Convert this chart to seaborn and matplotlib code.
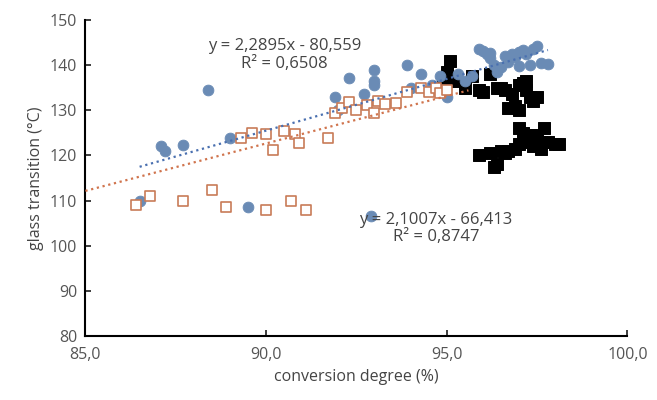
import numpy as np
import matplotlib
matplotlib.use("Agg")
import matplotlib.pyplot as plt
import seaborn as sns

blue_x = [86.5, 87.1, 87.2, 87.7, 88.4, 89.0, 89.5, 91.9, 92.0, 92.3, 92.7, 93.0, 93.0, 92.9, 93.0,
          93.9, 94.0, 94.3, 94.6, 94.8, 95.0, 95.3, 95.5, 95.9, 96.0, 96.1, 96.2, 96.3, 96.4, 96.5,
          96.6, 96.8, 96.9, 97.0, 97.1, 97.2, 97.3, 97.4, 97.5, 97.6, 97.8, 96.7, 97.0, 95.7, 96.2]
blue_y = [110, 122, 121, 122.3, 134.6, 123.8, 108.5, 133, 130, 137.2, 133.5, 136.5, 139, 106.5, 135.5,
          140, 135, 138, 135.5, 137.5, 133, 138, 136.5, 143.5, 143.2, 142.5, 141.5, 140, 138.5, 139.5,
          142, 142.5, 141.8, 143, 143.3, 142.5, 140, 143.5, 144.2, 140.5, 140.3, 140.8, 139.8, 137.5, 142.8]
orange_x = [86.4, 86.8, 87.7, 88.5, 88.9, 89.3, 89.6, 90.0, 90.2, 90.5, 90.8, 90.9, 91.7, 90.0, 90.7,
            91.1, 91.9, 92.1, 92.3, 92.5, 92.8, 93.0, 93.1, 93.3, 93.6, 93.9, 94.3, 94.5, 94.7, 94.8, 95.0]
orange_y = [109, 111, 110, 112.3, 108.5, 123.8, 125, 124.8, 121.3, 125.5, 124.7, 122.7, 123.8, 108, 110,
            108, 129.5, 130.5, 131.8, 130, 131.2, 129.3, 132, 131.5, 131.6, 134, 135, 134, 135, 133.8, 134.5]
black_x = [94.9, 95.0, 95.1, 95.2, 95.5, 95.7, 95.9, 96.0, 96.2, 96.4, 96.5, 96.6, 96.8, 96.9, 97.0,
           97.1, 97.2, 97.3, 97.4, 97.5, 97.0, 97.2, 96.7,
           95.9, 96.2, 96.4, 96.5, 96.7, 96.9, 97.0, 97.1, 97.2, 97.3, 97.4, 97.5, 97.6, 97.7, 97.8, 98.0, 98.1,
           96.3, 96.6, 97.0, 97.3, 97.6]
black_y = [137, 138.5, 141, 136.5, 135, 137.5, 134.5, 134, 138, 135, 135, 134.5, 133.5, 131, 135.5,
           136, 134.5, 133, 132, 133, 130, 136.5, 130.5,
           120, 120.5, 118, 121, 121, 121.5, 122.5, 125, 123, 124, 122, 124.5, 123, 126, 123, 122.5, 122.5,
           117.5, 120.5, 126, 124.5, 121.5]

sns.set_theme(style="white")
plt.rcParams['font.family'] = ['Open Sans', 'DejaVu Sans']
fig, ax = plt.subplots(figsize=(6.57, 4.0), dpi=100)

sns.scatterplot(x=black_x, y=black_y, marker='s', s=75, color='black', edgecolor='black', ax=ax, zorder=2)
sns.scatterplot(x=blue_x, y=blue_y, marker='o', s=60, color='#6a8bb5', edgecolor='#6a8bb5', ax=ax, zorder=3)
sns.scatterplot(x=orange_x, y=orange_y, marker='s', s=55, facecolor='white', edgecolor='#c87b58',
                linewidth=1.2, ax=ax, zorder=4)

xb = np.array([86.5, 97.8])
ax.plot(xb, 2.2895 * xb - 80.559, ':', color='#4a70b0', lw=1.6, zorder=5)
xo = np.array([85.0, 95.6])
ax.plot(xo, 2.1007 * xo - 66.413, ':', color='#d0744d', lw=1.6, zorder=5)

ax.text(90.5, 142.2, "y = 2,2895x - 80,559\nR² = 0,6508", ha='center', va='center',
        fontsize=12, color='#444444', linespacing=1.15)
ax.text(94.7, 103.8, "y = 2,1007x - 66,413\nR² = 0,8747", ha='center', va='center',
        fontsize=12, color='#444444', linespacing=1.15)

ax.set_xlim(85, 100)
ax.set_ylim(80, 150)
ax.set_xticks([85, 90, 95, 100])
ax.set_xticklabels(["85,0", "90,0", "95,0", "100,0"])
ax.set_yticks(range(80, 151, 10))
ax.set_xlabel("conversion degree (%)", fontsize=11.5, color='#444444')
ax.set_ylabel("glass transition (°C)", fontsize=11.5, color='#444444')
ax.tick_params(labelsize=11.5, labelcolor='#555555', direction='in', length=4, bottom=True, left=True)
ax.tick_params(axis='x', pad=8)
ax.tick_params(axis='y', pad=6)
for s in ['top', 'right']:
    ax.spines[s].set_visible(False)
for s in ['left', 'bottom']:
    ax.spines[s].set_color('black')
    ax.spines[s].set_linewidth(1.5)
if ax.get_legend():
    ax.get_legend().remove()
fig.subplots_adjust(left=0.13, right=0.955, bottom=0.16, top=0.95)
fig.savefig("out.png")
